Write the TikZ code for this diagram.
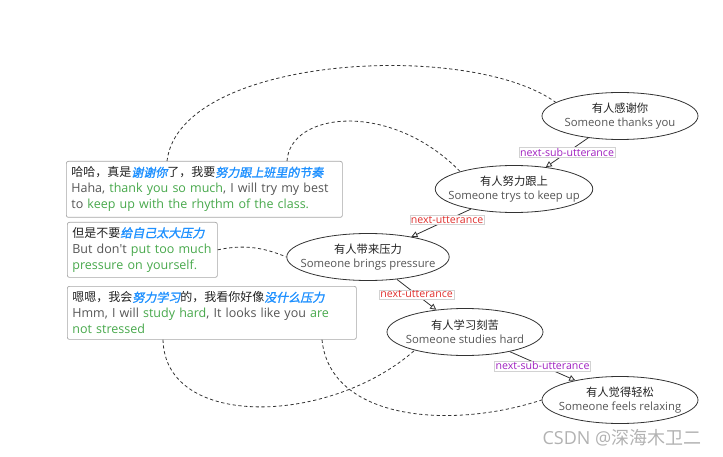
\documentclass[tikz,border=0pt]{standalone}
\usepackage{fontspec}
\setmainfont{Open Sans}
\newfontfamily\cjk{Noto Sans CJK SC}
\newfontfamily\cjkhl{Noto Sans CJK SC}[FakeSlant=0.2,FakeBold=1.5]
\usetikzlibrary{shapes.geometric,arrows.meta,calc}
\definecolor{hlblue}{HTML}{1E90FF}
\definecolor{hlgreen}{HTML}{47A84B}
\definecolor{engray}{HTML}{555555}
\definecolor{cnblack}{HTML}{222222}
\definecolor{lblpurple}{HTML}{A020C0}
\definecolor{lblred}{HTML}{E0302E}
\definecolor{linegray}{HTML}{333333}
\newcommand{\hlb}[1]{{\cjkhl\color{hlblue}#1}}
\newcommand{\grn}[1]{{\color{hlgreen}#1}}
\newcommand{\cnl}[1]{{\cjk\fontsize{12}{16}\selectfont\color{cnblack}#1}}
\begin{document}
\begin{tikzpicture}[x=1pt,y=-1pt,
  ell/.style={ellipse,draw=linegray,line width=0.8pt,minimum width=156pt,minimum height=47pt,inner xsep=-10pt,inner ysep=0pt,align=center,font=\fontsize{11.3}{14.5}\selectfont},
  tbox/.style={draw=gray!70,rounded corners=2pt,line width=0.7pt,anchor=north west,align=left,inner xsep=5pt,inner ysep=0pt,font=\fontsize{12.5}{16}\selectfont,text=engray},
  lbl/.style={fill=white,draw=gray!35,line width=0.5pt,inner sep=1pt,font=\fontsize{10.6}{12}\selectfont},
  arr/.style={draw=linegray,line width=0.8pt,-{Triangle[open,length=6pt,width=6pt]}},
  dsh/.style={draw=linegray,line width=0.8pt,dash pattern=on 3.2pt off 2.6pt}
]
\useasboundingbox (0,0) rectangle (723,457);
% ellipses
\node[ell] (e1) at (620,116) {{\cjk\color{cnblack}有人感谢你}\\{\color{engray}Someone thanks you}};
\node[ell] (e2) at (514,189) {{\cjk\color{cnblack}有人努力跟上}\\{\color{engray}Someone trys to keep up}};
\node[ell] (e3) at (368,257) {{\cjk\color{cnblack}有人带来压力}\\{\color{engray}Someone brings pressure}};
\node[ell] (e4) at (465,332) {{\cjk\color{cnblack}有人学习刻苦}\\{\color{engray}Someone studies hard}};
\node[ell] (e5) at (620,400) {{\cjk\color{cnblack}有人觉得轻松}\\{\color{engray}Someone feels relaxing}};
% text boxes
\node[tbox,text width=266pt,minimum height=56pt] (A) at (66,161) {\cnl{哈哈，真是\hlb{谢谢你}了，我要\hlb{努力跟上班里的节奏}}\\\mbox{Haha, \grn{thank you so much}, I will try my best}\\\mbox{to \grn{keep up with the rhythm of the class.}}};
\node[tbox,text width=140pt,minimum height=55pt] (B) at (67,222) {\cnl{但是不要\hlb{给自己太大压力}}\\\mbox{But don\textquotesingle t \grn{put too much}}\\\mbox{\grn{pressure on yourself.}}};
\node[tbox,text width=279pt,minimum height=53pt] (C) at (67,286) {\cnl{嗯嗯，我会\hlb{努力学习}的，我看你好像\hlb{没什么压力}}\\\mbox{Hmm, I will \grn{study hard}, It looks like you \grn{are}}\\\mbox{\grn{not stressed}}};
% arrows
\draw[arr] (e1) -- node[lbl,text=lblpurple,pos=0.5] (l1) {next-sub-utterance} (e2);
\draw[arr] (e2) -- node[lbl,text=lblred,pos=0.4] (l2) {next-utterance} (e3);
\draw[arr] (e3) -- node[lbl,text=lblred,pos=0.5] (l3) {next-utterance} (e4);
\draw[arr] (e4) -- node[lbl,text=lblpurple,pos=0.5] (l4) {next-sub-utterance} (e5);
% dashed links
\coordinate (a1) at ($(A.north west)+(101,0)$);
\coordinate (a2) at ($(A.north west)+(221,0)$);
\coordinate (c1) at ($(C.south west)+(96,0)$);
\coordinate (c2) at ($(C.south west)+(255,0)$);
\draw[dsh] (a1) .. controls (180,55) and (470,40) .. (e1.168);
\draw[dsh] (a2) .. controls (290,112) and (390,100) .. (e2.162);
\draw[dsh] (B.east) .. controls (245,244) and (265,248) .. (e3.west);
\draw[dsh] (c1) .. controls (165,430) and (330,425) .. (e4.200);
\draw[dsh] (c2) .. controls (330,420) and (450,430) .. (e5.west);
% watermark
\node[text=gray!60,font=\fontsize{18}{20}\selectfont] (wm) at (622,438) {CSDN @{\cjk 深海木卫二}};
\end{tikzpicture}
\end{document}
